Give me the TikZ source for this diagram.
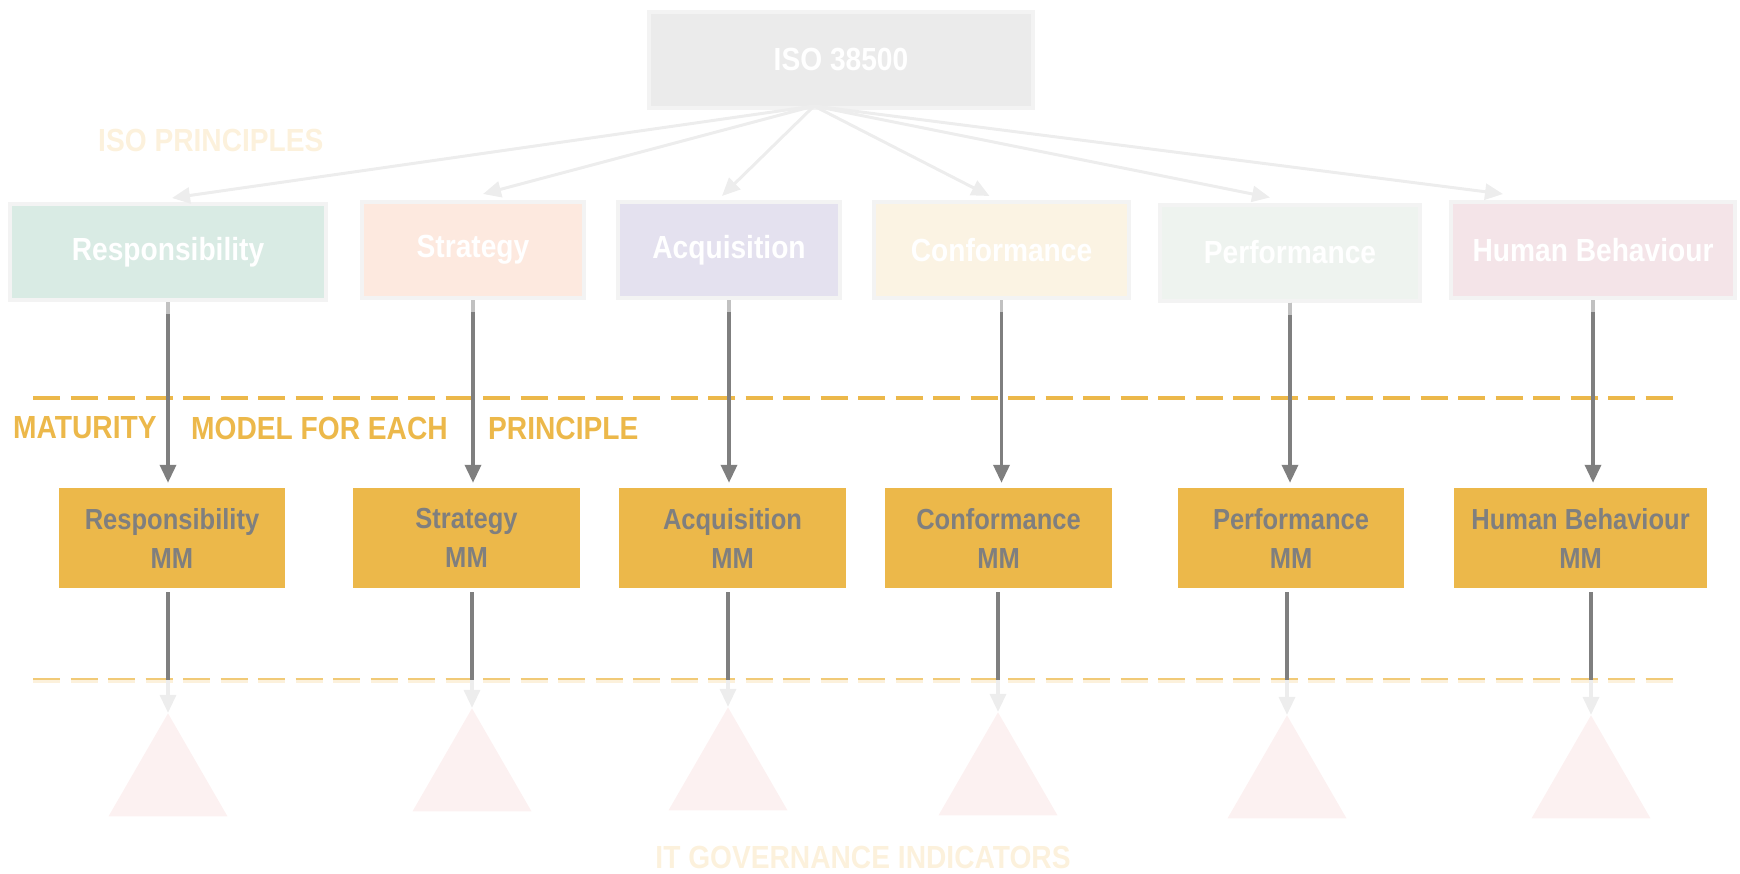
\documentclass[tikz,border=0pt]{standalone}
\usepackage{fontspec}
\setmainfont{Liberation Sans}[FakeStretch=0.88]
\usetikzlibrary{arrows.meta,shapes.geometric}

\definecolor{mmorange}{HTML}{ECB84A}
\definecolor{mmtext}{HTML}{7F7F7F}
\definecolor{isofill}{HTML}{EBEBEB}
\definecolor{paleline}{HTML}{F3F3F3}
\definecolor{respfill}{HTML}{D9EBE4}
\definecolor{stratfill}{HTML}{FDE9DF}
\definecolor{acqfill}{HTML}{E4E1EF}
\definecolor{conffill}{HTML}{FBF3E3}
\definecolor{perffill}{HTML}{EEF3EF}
\definecolor{hbfill}{HTML}{F4E4E8}
\definecolor{palearrow}{HTML}{EDEDED}
\definecolor{paleorange}{HTML}{FCF1DC}
\definecolor{trifill}{HTML}{FCF1F1}

\tikzset{
  principle/.style={draw=paleline, line width=4pt, minimum height=96pt, inner sep=0pt, text=white, font=\fontsize{32}{36}\selectfont\bfseries},
  mmbox/.style={fill=mmorange, minimum height=100pt, inner sep=0pt, text=mmtext, align=center, font=\fontsize{29}{39}\selectfont\bfseries},
  indicator/.style={regular polygon, regular polygon sides=3, minimum size=137.4pt, inner sep=0pt, fill=trifill},
  banner/.style={inner sep=0pt, font=\fontsize{32}{36}\selectfont\bfseries},
  isoarrow/.style={draw=palearrow, line width=3pt, -{Triangle[length=18pt,width=16pt]}},
  mmarrow/.style={draw=mmtext, line width=3.5pt, shorten >=5pt, -{Triangle[length=18pt,width=16pt]}},
  faintarrow/.style={draw=palearrow, line width=3.5pt, shorten <=4pt, -{Triangle[length=18pt,width=16pt]}},
  faintstub/.style={draw=palearrow!60!mmtext, line width=3.5pt},
  darkline/.style={draw=mmtext, line width=3.5pt, shorten <=4pt},
  divider/.style={dash pattern=on 27pt off 10.5pt}
}

\begin{document}
\begin{tikzpicture}[x=1pt,y=-1pt]
\useasboundingbox (0,0) rectangle (1740,873);

% ISO standard and its principles
\node [principle, fill=isofill, minimum width=384pt] (iso) at (841,60) {ISO 38500};
\node [banner, text=paleorange, anchor=west] (isoprinciples) at (98,140) {ISO PRINCIPLES};

\node [principle, fill=respfill, minimum width=316pt] (resp) at (168,252) {Responsibility};
\node [principle, fill=stratfill, minimum width=222pt] (strat) at (473,250) {Strategy};
\node [principle, fill=acqfill, minimum width=222pt] (acq) at (729,250) {Acquisition};
\node [principle, fill=conffill, minimum width=255pt] (conf) at (1001.5,250) {Conformance};
\node [principle, fill=perffill, minimum width=260pt] (perf) at (1290,252.5) {Performance};
\node [principle, fill=hbfill, minimum width=284pt] (hb) at (1593,250) {Human Behaviour};

\coordinate (isofoot) at (814,106);
\draw [isoarrow] (isofoot) -- ([xshift=4pt,yshift=4pt]resp.north);
\draw [isoarrow] (isofoot) -- ([xshift=10pt,yshift=6pt]strat.north);
\draw [isoarrow] (isofoot) -- ([xshift=-7pt,yshift=4pt]acq.north);
\draw [isoarrow] (isofoot) -- ([xshift=-12pt,yshift=4pt]conf.north);
\draw [isoarrow] (isofoot) -- ([xshift=-20pt,yshift=5pt]perf.north);
\draw [isoarrow] (isofoot) -- ([xshift=-90pt,yshift=6pt]hb.north);

% maturity models
\draw [divider, draw=mmorange, line width=4.5pt] (33,398) -- (1678,398);
\node [banner, text=mmorange, anchor=west] (maturity) at (13,428) {MATURITY};
\node [banner, text=mmorange, anchor=west] (model) at (191,428) {MODEL FOR EACH};
\node [banner, text=mmorange, anchor=west] (eachprinciple) at (488,428) {PRINCIPLE};

\node [mmbox, minimum width=226pt] (respmm) at (172,538) {Responsibility\\MM};
\node [mmbox, minimum width=227pt] (stratmm) at (466.5,538) {Strategy\\MM};
\node [mmbox, minimum width=227pt] (acqmm) at (732.5,538) {Acquisition\\MM};
\node [mmbox, minimum width=227pt] (confmm) at (998.5,538) {Conformance\\MM};
\node [mmbox, minimum width=226pt] (perfmm) at (1291,538) {Performance\\MM};
\node [mmbox, minimum width=253pt] (hbmm) at (1580.5,538) {Human Behaviour\\MM};

\foreach \p in {resp,strat,acq,conf,perf,hb}
{
  \draw [mmarrow] (\p.south) -- (\p.south |- \p mm.north);
  \draw [faintstub] (\p.south) -- ++(0,12);
}

% indicators
\draw [divider, draw=mmorange!75!white, line width=2.5pt] (33,678.75) -- (1678,678.75);
\draw [divider, draw=paleorange, line width=2.5pt] (33,681.25) -- (1678,681.25);
\coordinate (cut) at (0,680);

\node [indicator] (resptri) at (168,782) {};
\node [indicator] (strattri) at (472,777) {};
\node [indicator] (acqtri) at (728,776) {};
\node [indicator] (conftri) at (998,781) {};
\node [indicator] (perftri) at (1287,784) {};
\node [indicator] (hbtri) at (1591,784) {};

\foreach \p in {resp,strat,acq,conf,perf,hb}
{
  \draw [faintarrow] (\p tri.north |- \p mm.south) -- (\p tri.north);
  \draw [darkline] (\p tri.north |- \p mm.south) -- (\p tri.north |- cut);
}

\node [banner, text=paleorange] (indicators) at (863,857) {IT GOVERNANCE INDICATORS};

\end{tikzpicture}
\end{document}
